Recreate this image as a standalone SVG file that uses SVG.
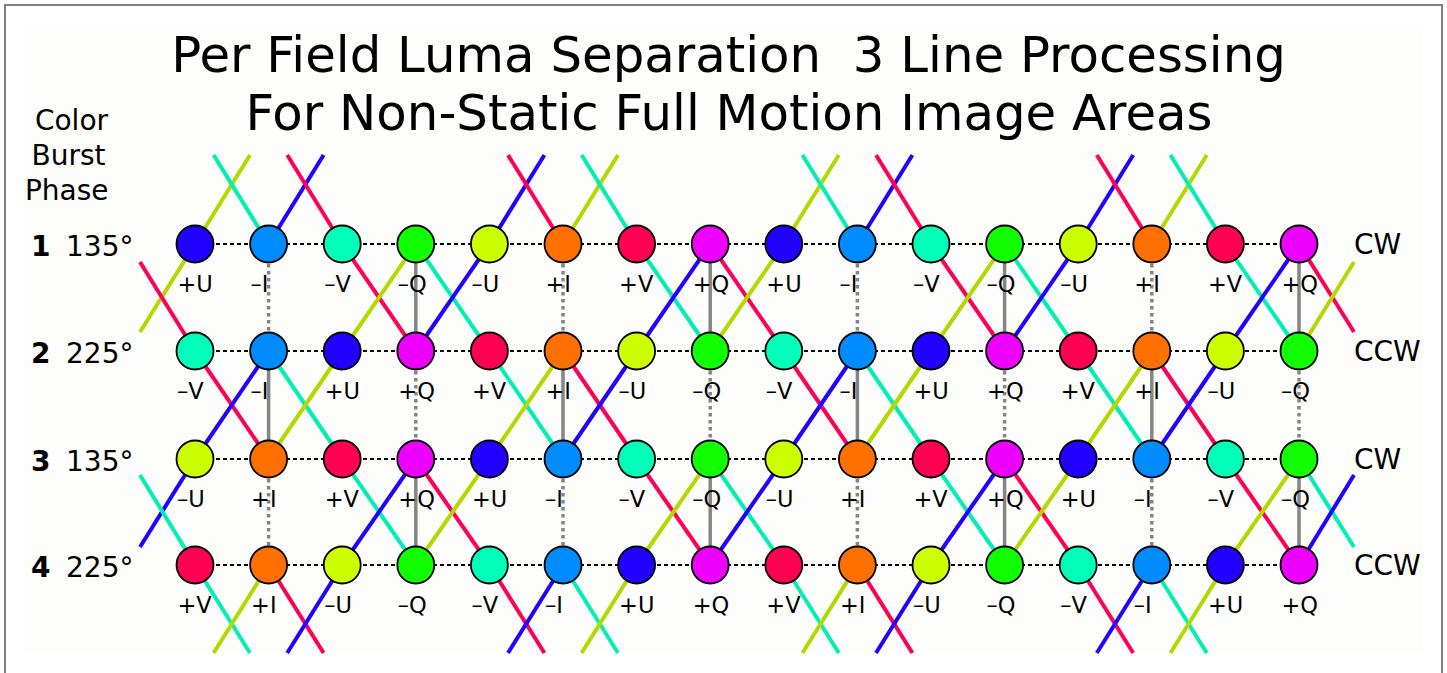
<svg xmlns="http://www.w3.org/2000/svg" width="1447" height="673" viewBox="0 0 1447 673">
<style>
.t{font-family:"DejaVu Sans","Liberation Sans",sans-serif;fill:#000}
.title{font-size:49.8px;text-anchor:middle}
.side{font-size:28px}
.sc{text-anchor:middle}
.b{font-weight:bold}
.lbl{font-size:22.5px}
circle{stroke:#000;stroke-width:1.8}
.pu{fill:#2200ff}.mi{fill:#008cff}.mv{fill:#00ffb8}.mq{fill:#11ff00}
.mu{fill:#ccff00}.pi{fill:#ff7000}.pv{fill:#ff0055}.pq{fill:#ee00ff}
.h{stroke:#000;stroke-width:2;stroke-dasharray:4 3}
.vs{stroke:#858585;stroke-width:3.5}
.vd{stroke:#858585;stroke-width:3.5;stroke-dasharray:3.5 3.5}
.lb,.la,.ly,.lr{stroke-width:4;fill:none}
.lb{stroke:#2200ff}.la{stroke:#00f0b4}.ly{stroke:#b4d800}.lr{stroke:#ff0058}
</style>
<rect x="0" y="0" width="1447" height="673" fill="#fff"/>
<rect x="24" y="25" width="1399" height="628" fill="#fdfdfb"/>
<rect x="5" y="5" width="1437" height="690" fill="none" stroke="#808080" stroke-width="2"/>
<g id="title" class="t title">
<text x="728.5" y="72" xml:space="preserve">Per Field Luma Separation  3 Line Processing</text>
<text x="729" y="130">For Non-Static Full Motion Image Areas</text>
</g>
<g id="side-labels" class="t side">
<text class="sc" x="71.5" y="130">Color</text>
<text class="sc" x="68.5" y="165">Burst</text>
<text class="sc" x="66.7" y="200">Phase</text>
<text class="b" x="31" y="255.5">1</text><text x="66" y="255.5">135°</text>
<text class="b" x="31" y="362.5">2</text><text x="66" y="362.5">225°</text>
<text class="b" x="31" y="470.5">3</text><text x="66" y="470.5">135°</text>
<text class="b" x="31" y="576.5">4</text><text x="66" y="576.5">225°</text>
</g>
<g id="rot-labels" class="t" style="font-size:28px">
<text x="1354" y="254">CW</text>
<text x="1354" y="361">CCW</text>
<text x="1354" y="469">CW</text>
<text x="1354" y="575">CCW</text>
</g>
<g id="connectors">
<g id="diagonals">
<line class="ly" x1="195" y1="244" x2="250" y2="155"/>
<line class="la" x1="268.6" y1="244" x2="213.6" y2="155"/>
<line class="lb" x1="268.6" y1="244" x2="323.6" y2="155"/>
<line class="lr" x1="342.2" y1="244" x2="287.2" y2="155"/>
<line class="lb" x1="489.4" y1="244" x2="544.4" y2="155"/>
<line class="lr" x1="563" y1="244" x2="508" y2="155"/>
<line class="ly" x1="563" y1="244" x2="618" y2="155"/>
<line class="la" x1="636.6" y1="244" x2="581.6" y2="155"/>
<line class="ly" x1="783.8" y1="244" x2="838.8" y2="155"/>
<line class="la" x1="857.4" y1="244" x2="802.4" y2="155"/>
<line class="lb" x1="857.4" y1="244" x2="912.4" y2="155"/>
<line class="lr" x1="931" y1="244" x2="876" y2="155"/>
<line class="lb" x1="1078.2" y1="244" x2="1133.2" y2="155"/>
<line class="lr" x1="1151.8" y1="244" x2="1096.8" y2="155"/>
<line class="ly" x1="1151.8" y1="244" x2="1206.8" y2="155"/>
<line class="la" x1="1225.4" y1="244" x2="1170.4" y2="155"/>

<line class="lr" x1="342.2" y1="244" x2="415.8" y2="351"/>
<line class="ly" x1="415.8" y1="244" x2="342.2" y2="351"/>
<line class="la" x1="415.8" y1="244" x2="489.4" y2="351"/>
<line class="lb" x1="489.4" y1="244" x2="415.8" y2="351"/>
<line class="la" x1="636.6" y1="244" x2="710.2" y2="351"/>
<line class="lb" x1="710.2" y1="244" x2="636.6" y2="351"/>
<line class="lr" x1="710.2" y1="244" x2="783.8" y2="351"/>
<line class="ly" x1="783.8" y1="244" x2="710.2" y2="351"/>
<line class="lr" x1="931" y1="244" x2="1004.6" y2="351"/>
<line class="ly" x1="1004.6" y1="244" x2="931" y2="351"/>
<line class="la" x1="1004.6" y1="244" x2="1078.2" y2="351"/>
<line class="lb" x1="1078.2" y1="244" x2="1004.6" y2="351"/>
<line class="la" x1="1225.4" y1="244" x2="1299" y2="351"/>
<line class="lb" x1="1299" y1="244" x2="1225.4" y2="351"/>
<line class="ly" x1="195" y1="244" x2="140" y2="332"/>
<line class="lr" x1="140" y1="262" x2="195" y2="351"/>
<line class="lr" x1="1299" y1="244" x2="1354" y2="332"/>
<line class="ly" x1="1354" y1="262" x2="1299" y2="351"/>

<line class="lr" x1="195" y1="351" x2="268.6" y2="459"/>
<line class="lb" x1="268.6" y1="351" x2="195" y2="459"/>
<line class="la" x1="268.6" y1="351" x2="342.2" y2="459"/>
<line class="ly" x1="342.2" y1="351" x2="268.6" y2="459"/>
<line class="la" x1="489.4" y1="351" x2="563" y2="459"/>
<line class="ly" x1="563" y1="351" x2="489.4" y2="459"/>
<line class="lr" x1="563" y1="351" x2="636.6" y2="459"/>
<line class="lb" x1="636.6" y1="351" x2="563" y2="459"/>
<line class="lr" x1="783.8" y1="351" x2="857.4" y2="459"/>
<line class="lb" x1="857.4" y1="351" x2="783.8" y2="459"/>
<line class="la" x1="857.4" y1="351" x2="931" y2="459"/>
<line class="ly" x1="931" y1="351" x2="857.4" y2="459"/>
<line class="la" x1="1078.2" y1="351" x2="1151.8" y2="459"/>
<line class="ly" x1="1151.8" y1="351" x2="1078.2" y2="459"/>
<line class="lr" x1="1151.8" y1="351" x2="1225.4" y2="459"/>
<line class="lb" x1="1225.4" y1="351" x2="1151.8" y2="459"/>

<line class="lb" x1="195" y1="459" x2="140" y2="547"/>
<line class="la" x1="140" y1="475" x2="195" y2="565"/>
<line class="la" x1="342.2" y1="459" x2="415.8" y2="565"/>
<line class="lb" x1="415.8" y1="459" x2="342.2" y2="565"/>
<line class="lr" x1="415.8" y1="459" x2="489.4" y2="565"/>
<line class="ly" x1="489.4" y1="459" x2="415.8" y2="565"/>
<line class="lr" x1="636.6" y1="459" x2="710.2" y2="565"/>
<line class="ly" x1="710.2" y1="459" x2="636.6" y2="565"/>
<line class="la" x1="710.2" y1="459" x2="783.8" y2="565"/>
<line class="lb" x1="783.8" y1="459" x2="710.2" y2="565"/>
<line class="la" x1="931" y1="459" x2="1004.6" y2="565"/>
<line class="lb" x1="1004.6" y1="459" x2="931" y2="565"/>
<line class="lr" x1="1004.6" y1="459" x2="1078.2" y2="565"/>
<line class="ly" x1="1078.2" y1="459" x2="1004.6" y2="565"/>
<line class="lr" x1="1225.4" y1="459" x2="1299" y2="565"/>
<line class="ly" x1="1299" y1="459" x2="1225.4" y2="565"/>
<line class="la" x1="1299" y1="459" x2="1354" y2="547"/>
<line class="lb" x1="1354" y1="475" x2="1299" y2="565"/>

<line class="la" x1="195" y1="565" x2="250" y2="653"/>
<line class="ly" x1="268.6" y1="565" x2="213.6" y2="653"/>
<line class="lr" x1="268.6" y1="565" x2="323.6" y2="653"/>
<line class="lb" x1="342.2" y1="565" x2="287.2" y2="653"/>
<line class="lr" x1="489.4" y1="565" x2="544.4" y2="653"/>
<line class="lb" x1="563" y1="565" x2="508" y2="653"/>
<line class="la" x1="563" y1="565" x2="618" y2="653"/>
<line class="ly" x1="636.6" y1="565" x2="581.6" y2="653"/>
<line class="la" x1="783.8" y1="565" x2="838.8" y2="653"/>
<line class="ly" x1="857.4" y1="565" x2="802.4" y2="653"/>
<line class="lr" x1="857.4" y1="565" x2="912.4" y2="653"/>
<line class="lb" x1="931" y1="565" x2="876" y2="653"/>
<line class="lr" x1="1078.2" y1="565" x2="1133.2" y2="653"/>
<line class="lb" x1="1151.8" y1="565" x2="1096.8" y2="653"/>
<line class="la" x1="1151.8" y1="565" x2="1206.8" y2="653"/>
<line class="ly" x1="1225.4" y1="565" x2="1170.4" y2="653"/>
</g>
<g id="rows">
<line class="h" x1="195" y1="244" x2="1299" y2="244"/>
<line class="h" x1="195" y1="351" x2="1299" y2="351"/>
<line class="h" x1="195" y1="459" x2="1299" y2="459"/>
<line class="h" x1="195" y1="565" x2="1299" y2="565"/>
</g>
<g id="verticals">
<line class="vd" x1="268.6" y1="264" x2="268.6" y2="332"/>
<line class="vd" x1="563" y1="264" x2="563" y2="332"/>
<line class="vd" x1="857.4" y1="264" x2="857.4" y2="332"/>
<line class="vd" x1="1151.8" y1="264" x2="1151.8" y2="332"/>
<line class="vs" x1="415.8" y1="244" x2="415.8" y2="351"/>
<line class="vs" x1="710.2" y1="244" x2="710.2" y2="351"/>
<line class="vs" x1="1004.6" y1="244" x2="1004.6" y2="351"/>
<line class="vs" x1="1299" y1="244" x2="1299" y2="351"/>
<line class="vs" x1="268.6" y1="351" x2="268.6" y2="459"/>
<line class="vs" x1="563" y1="351" x2="563" y2="459"/>
<line class="vs" x1="857.4" y1="351" x2="857.4" y2="459"/>
<line class="vs" x1="1151.8" y1="351" x2="1151.8" y2="459"/>
<line class="vd" x1="415.8" y1="371" x2="415.8" y2="440"/>
<line class="vd" x1="710.2" y1="371" x2="710.2" y2="440"/>
<line class="vd" x1="1004.6" y1="371" x2="1004.6" y2="440"/>
<line class="vd" x1="1299" y1="371" x2="1299" y2="440"/>
<line class="vd" x1="268.6" y1="479" x2="268.6" y2="546"/>
<line class="vd" x1="563" y1="479" x2="563" y2="546"/>
<line class="vd" x1="857.4" y1="479" x2="857.4" y2="546"/>
<line class="vd" x1="1151.8" y1="479" x2="1151.8" y2="546"/>
<line class="vs" x1="415.8" y1="459" x2="415.8" y2="565"/>
<line class="vs" x1="710.2" y1="459" x2="710.2" y2="565"/>
<line class="vs" x1="1004.6" y1="459" x2="1004.6" y2="565"/>
<line class="vs" x1="1299" y1="459" x2="1299" y2="565"/>
</g>
</g>
<g id="nodes" class="t lbl">
<g id="r1c0"><circle class="pu" cx="195" cy="244" r="18.5"/><text x="177.5" y="292">+U</text></g>
<g id="r1c1"><circle class="mi" cx="268.6" cy="244" r="18.5"/><text x="250.6" y="292">–I</text></g>
<g id="r1c2"><circle class="mv" cx="342.2" cy="244" r="18.5"/><text x="324.2" y="292">–V</text></g>
<g id="r1c3"><circle class="mq" cx="415.8" cy="244" r="18.5"/><text x="397.8" y="292">–Q</text></g>
<g id="r1c4"><circle class="mu" cx="489.4" cy="244" r="18.5"/><text x="471.4" y="292">–U</text></g>
<g id="r1c5"><circle class="pi" cx="563" cy="244" r="18.5"/><text x="545.5" y="292">+I</text></g>
<g id="r1c6"><circle class="pv" cx="636.6" cy="244" r="18.5"/><text x="619.1" y="292">+V</text></g>
<g id="r1c7"><circle class="pq" cx="710.2" cy="244" r="18.5"/><text x="692.7" y="292">+Q</text></g>
<g id="r1c8"><circle class="pu" cx="783.8" cy="244" r="18.5"/><text x="766.3" y="292">+U</text></g>
<g id="r1c9"><circle class="mi" cx="857.4" cy="244" r="18.5"/><text x="839.4" y="292">–I</text></g>
<g id="r1c10"><circle class="mv" cx="931" cy="244" r="18.5"/><text x="913" y="292">–V</text></g>
<g id="r1c11"><circle class="mq" cx="1004.6" cy="244" r="18.5"/><text x="986.6" y="292">–Q</text></g>
<g id="r1c12"><circle class="mu" cx="1078.2" cy="244" r="18.5"/><text x="1060.2" y="292">–U</text></g>
<g id="r1c13"><circle class="pi" cx="1151.8" cy="244" r="18.5"/><text x="1134.3" y="292">+I</text></g>
<g id="r1c14"><circle class="pv" cx="1225.4" cy="244" r="18.5"/><text x="1207.9" y="292">+V</text></g>
<g id="r1c15"><circle class="pq" cx="1299" cy="244" r="18.5"/><text x="1281.5" y="292">+Q</text></g>

<g id="r2c0"><circle class="mv" cx="195" cy="351" r="18.5"/><text x="177" y="399">–V</text></g>
<g id="r2c1"><circle class="mi" cx="268.6" cy="351" r="18.5"/><text x="250.6" y="399">–I</text></g>
<g id="r2c2"><circle class="pu" cx="342.2" cy="351" r="18.5"/><text x="324.7" y="399">+U</text></g>
<g id="r2c3"><circle class="pq" cx="415.8" cy="351" r="18.5"/><text x="398.3" y="399">+Q</text></g>
<g id="r2c4"><circle class="pv" cx="489.4" cy="351" r="18.5"/><text x="471.9" y="399">+V</text></g>
<g id="r2c5"><circle class="pi" cx="563" cy="351" r="18.5"/><text x="545.5" y="399">+I</text></g>
<g id="r2c6"><circle class="mu" cx="636.6" cy="351" r="18.5"/><text x="618.6" y="399">–U</text></g>
<g id="r2c7"><circle class="mq" cx="710.2" cy="351" r="18.5"/><text x="692.2" y="399">–Q</text></g>
<g id="r2c8"><circle class="mv" cx="783.8" cy="351" r="18.5"/><text x="765.8" y="399">–V</text></g>
<g id="r2c9"><circle class="mi" cx="857.4" cy="351" r="18.5"/><text x="839.4" y="399">–I</text></g>
<g id="r2c10"><circle class="pu" cx="931" cy="351" r="18.5"/><text x="913.5" y="399">+U</text></g>
<g id="r2c11"><circle class="pq" cx="1004.6" cy="351" r="18.5"/><text x="987.1" y="399">+Q</text></g>
<g id="r2c12"><circle class="pv" cx="1078.2" cy="351" r="18.5"/><text x="1060.7" y="399">+V</text></g>
<g id="r2c13"><circle class="pi" cx="1151.8" cy="351" r="18.5"/><text x="1134.3" y="399">+I</text></g>
<g id="r2c14"><circle class="mu" cx="1225.4" cy="351" r="18.5"/><text x="1207.4" y="399">–U</text></g>
<g id="r2c15"><circle class="mq" cx="1299" cy="351" r="18.5"/><text x="1281" y="399">–Q</text></g>

<g id="r3c0"><circle class="mu" cx="195" cy="459" r="18.5"/><text x="177" y="507">–U</text></g>
<g id="r3c1"><circle class="pi" cx="268.6" cy="459" r="18.5"/><text x="251.1" y="507">+I</text></g>
<g id="r3c2"><circle class="pv" cx="342.2" cy="459" r="18.5"/><text x="324.7" y="507">+V</text></g>
<g id="r3c3"><circle class="pq" cx="415.8" cy="459" r="18.5"/><text x="398.3" y="507">+Q</text></g>
<g id="r3c4"><circle class="pu" cx="489.4" cy="459" r="18.5"/><text x="471.9" y="507">+U</text></g>
<g id="r3c5"><circle class="mi" cx="563" cy="459" r="18.5"/><text x="545" y="507">–I</text></g>
<g id="r3c6"><circle class="mv" cx="636.6" cy="459" r="18.5"/><text x="618.6" y="507">–V</text></g>
<g id="r3c7"><circle class="mq" cx="710.2" cy="459" r="18.5"/><text x="692.2" y="507">–Q</text></g>
<g id="r3c8"><circle class="mu" cx="783.8" cy="459" r="18.5"/><text x="765.8" y="507">–U</text></g>
<g id="r3c9"><circle class="pi" cx="857.4" cy="459" r="18.5"/><text x="839.9" y="507">+I</text></g>
<g id="r3c10"><circle class="pv" cx="931" cy="459" r="18.5"/><text x="913.5" y="507">+V</text></g>
<g id="r3c11"><circle class="pq" cx="1004.6" cy="459" r="18.5"/><text x="987.1" y="507">+Q</text></g>
<g id="r3c12"><circle class="pu" cx="1078.2" cy="459" r="18.5"/><text x="1060.7" y="507">+U</text></g>
<g id="r3c13"><circle class="mi" cx="1151.8" cy="459" r="18.5"/><text x="1133.8" y="507">–I</text></g>
<g id="r3c14"><circle class="mv" cx="1225.4" cy="459" r="18.5"/><text x="1207.4" y="507">–V</text></g>
<g id="r3c15"><circle class="mq" cx="1299" cy="459" r="18.5"/><text x="1281" y="507">–Q</text></g>

<g id="r4c0"><circle class="pv" cx="195" cy="565" r="18.5"/><text x="177.5" y="613">+V</text></g>
<g id="r4c1"><circle class="pi" cx="268.6" cy="565" r="18.5"/><text x="251.1" y="613">+I</text></g>
<g id="r4c2"><circle class="mu" cx="342.2" cy="565" r="18.5"/><text x="324.2" y="613">–U</text></g>
<g id="r4c3"><circle class="mq" cx="415.8" cy="565" r="18.5"/><text x="397.8" y="613">–Q</text></g>
<g id="r4c4"><circle class="mv" cx="489.4" cy="565" r="18.5"/><text x="471.4" y="613">–V</text></g>
<g id="r4c5"><circle class="mi" cx="563" cy="565" r="18.5"/><text x="545" y="613">–I</text></g>
<g id="r4c6"><circle class="pu" cx="636.6" cy="565" r="18.5"/><text x="619.1" y="613">+U</text></g>
<g id="r4c7"><circle class="pq" cx="710.2" cy="565" r="18.5"/><text x="692.7" y="613">+Q</text></g>
<g id="r4c8"><circle class="pv" cx="783.8" cy="565" r="18.5"/><text x="766.3" y="613">+V</text></g>
<g id="r4c9"><circle class="pi" cx="857.4" cy="565" r="18.5"/><text x="839.9" y="613">+I</text></g>
<g id="r4c10"><circle class="mu" cx="931" cy="565" r="18.5"/><text x="913" y="613">–U</text></g>
<g id="r4c11"><circle class="mq" cx="1004.6" cy="565" r="18.5"/><text x="986.6" y="613">–Q</text></g>
<g id="r4c12"><circle class="mv" cx="1078.2" cy="565" r="18.5"/><text x="1060.2" y="613">–V</text></g>
<g id="r4c13"><circle class="mi" cx="1151.8" cy="565" r="18.5"/><text x="1133.8" y="613">–I</text></g>
<g id="r4c14"><circle class="pu" cx="1225.4" cy="565" r="18.5"/><text x="1207.9" y="613">+U</text></g>
<g id="r4c15"><circle class="pq" cx="1299" cy="565" r="18.5"/><text x="1281.5" y="613">+Q</text></g>
</g>
</svg>
